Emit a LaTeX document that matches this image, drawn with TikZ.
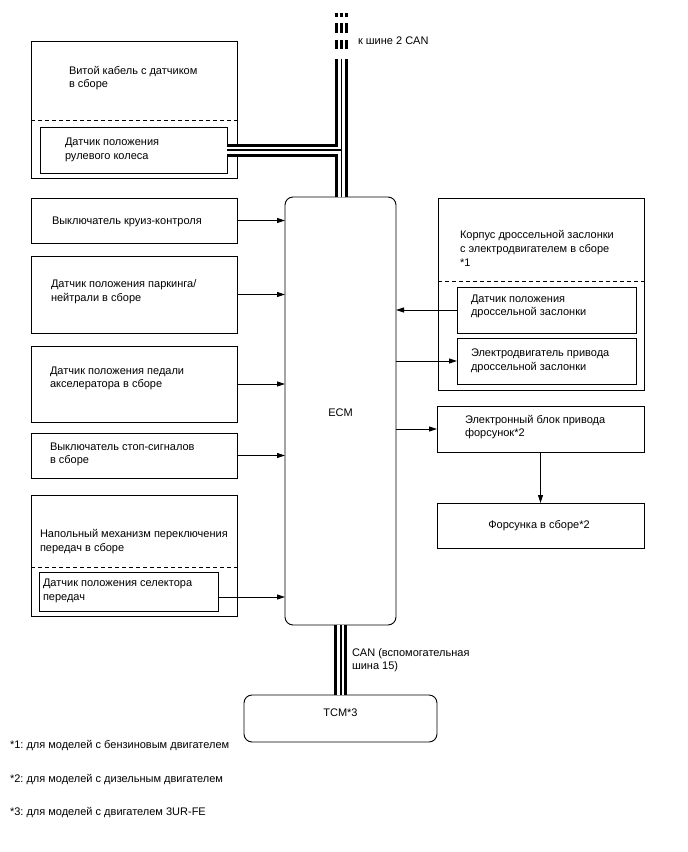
\documentclass[tikz,border=0pt]{standalone}
\usepackage{fontspec}
\setmainfont{Liberation Sans}
\usetikzlibrary{arrows.meta}
\frenchspacing
\begin{document}
\begin{tikzpicture}[x=1pt,y=-1pt,
  box/.style={draw, line width=0.9pt, inner sep=0pt, outer sep=0pt},
  rbox/.style={box, rounded corners=8pt},
  txt/.style={inner sep=0pt, outer sep=0pt, align=left, anchor=west, font=\fontsize{11}{13.6}\selectfont},
  ctxt/.style={inner sep=0pt, outer sep=0pt, align=center, font=\fontsize{11}{13.6}\selectfont},
  arr/.style={line width=0.8pt, -{Triangle[length=8pt,width=5pt]}},
  dsh/.style={line width=0.9pt, dash pattern=on 4pt off 3pt},
  cblk/.style={line width=13pt},
  cwht/.style={line width=7pt, white},
  cmid/.style={line width=1.4pt},
]
\useasboundingbox (0,0) rectangle (688,852);

% left column
\node[box, minimum width=206pt, minimum height=137pt] (steerO) at (134,109.5) {};
\draw[dsh] (31,120) -- (237,120);
\node[box, minimum width=187pt, minimum height=46pt] (steerI) at (133.5,150) {};
\node[txt] (tSteerO) at (69,78) {Витой кабель с датчиком\\в сборе};
\node[txt] (tSteerI) at (65,150) {Датчик положения\\рулевого колеса};

\node[box, minimum width=206pt, minimum height=45pt] (cruise) at (134,220.5) {};
\node[txt] (tCruise) at (52,222) {Выключатель круиз-контроля};

\node[box, minimum width=206pt, minimum height=77pt] (park) at (134,294.5) {};
\node[txt] (tPark) at (51,291.5) {Датчик положения паркинга/\\нейтрали в сборе};

\node[box, minimum width=206pt, minimum height=76pt] (pedal) at (134,384) {};
\node[txt] (tPedal) at (50,378.5) {Датчик положения педали\\акселератора в сборе};

\node[box, minimum width=206pt, minimum height=45pt] (stop) at (134,455.5) {};
\node[txt] (tStop) at (50,454.5) {Выключатель стоп-сигналов\\в сборе};

\node[box, minimum width=206pt, minimum height=121pt] (shiftO) at (134,555.5) {};
\draw[dsh] (31,567) -- (237,567);
\node[txt] (tShiftO) at (40,541.5) {Напольный механизм переключения\\передач в сборе};
\node[box, minimum width=179pt, minimum height=39pt] (sel) at (128.5,591.5) {};
\node[txt] (tSel) at (43,591) {Датчик положения селектора\\передач};

% ECM
\node[rbox, minimum width=111pt, minimum height=428pt] (ecm) at (340.5,411) {};
\node[ctxt] (tEcm) at (340.5,413) {ECM};

% right column
\node[box, minimum width=206pt, minimum height=192pt] (thrO) at (541,294) {};
\draw[dsh] (438,281) -- (644,281);
\node[txt] (tThrO) at (460,248.5) {Корпус дроссельной заслонки\\с электродвигателем в сборе\\*1};
\node[box, minimum width=179pt, minimum height=46pt] (tps) at (546.5,310) {};
\node[txt] (tTps) at (471,306.5) {Датчик положения\\дроссельной заслонки};
\node[box, minimum width=179pt, minimum height=46pt] (mot) at (546.5,361) {};
\node[txt] (tMot) at (471,360.5) {Электродвигатель привода\\дроссельной заслонки};

\node[box, minimum width=207pt, minimum height=46pt] (drv) at (540.5,429) {};
\node[txt] (tDrv) at (465,427) {Электронный блок привода\\форсунок*2};
\node[box, minimum width=207pt, minimum height=45pt] (inj) at (540.5,525.5) {};
\node[ctxt] (tInj) at (539,526) {Форсунка в сборе*2};

% TCM
\node[rbox, minimum width=193pt, minimum height=47pt] (tcm) at (340.5,718.5) {};
\node[ctxt] (tTcm) at (340.5,713) {TCM*3};

% arrows
\draw[arr] (cruise.east) -- (cruise.east -| ecm.west);
\draw[arr] (park.east) -- (park.east -| ecm.west);
\draw[arr] (pedal.east) -- (pedal.east -| ecm.west);
\draw[arr] (stop.east) -- (stop.east -| ecm.west);
\draw[arr] ([yshift=-5.5pt]sel.east) -- ([yshift=-5.5pt]sel.east -| ecm.west);
\draw[arr] (tps.west) -- (tps.west -| ecm.east);
\draw[arr] (ecm.east |- mot.west) -- (mot.west);
\draw[arr] (ecm.east |- drv.west) -- (drv.west);
\draw[arr] (drv.south) -- (inj.north);

% CAN bus top
\coordinate (bustop) at (341.6,59);
\coordinate (busjn) at (341.6,150);
\coordinate (ecmtop) at (341.6,197);
\draw[cblk] (steerI.east) -- (busjn);
\draw[cblk] (bustop) -- (ecmtop);
\draw[cwht] (bustop) -- (ecmtop);
\draw[cwht] (steerI.east) -- (busjn);
\draw[cmid] (steerI.east) -- (busjn);
\draw[cmid] (bustop) -- (ecmtop);
\foreach \ya/\yb in {13/17, 23/33, 40/49} {
  \fill (335.1,\ya) rectangle (338.1,\yb);
  \fill (340.4,\ya) rectangle (343.0,\yb);
  \fill (345.1,\ya) rectangle (348.1,\yb);
}
\node[txt] (tBus2) at (358,41) {к шине 2 CAN};

% CAN bus bottom
\coordinate (ecmbot) at (340.8,625);
\coordinate (tcmtop) at (340.8,695);
\draw[cblk] (ecmbot) -- (tcmtop);
\draw[cwht] (ecmbot) -- (tcmtop);
\draw[cmid] (ecmbot) -- (tcmtop);
\node[txt] (tBus15) at (352,660) {CAN (вспомогательная\\шина 15)};

% footnotes
\node[txt] (fn1) at (10,746) {*1: для моделей с бензиновым двигателем};
\node[txt] (fn2) at (10,780) {*2: для моделей с дизельным двигателем};
\node[txt] (fn3) at (10,813) {*3: для моделей с двигателем 3UR-FE};
\end{tikzpicture}
\end{document}
